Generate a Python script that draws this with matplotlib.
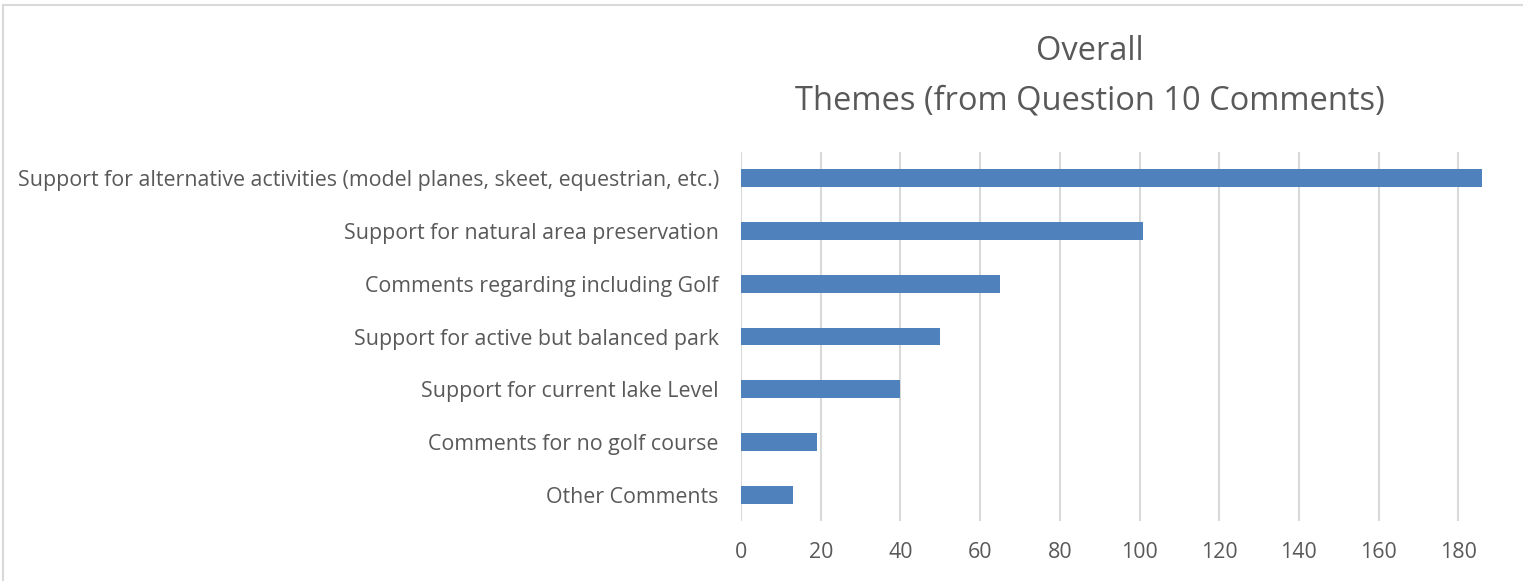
import matplotlib.pyplot as plt
from matplotlib.patches import Rectangle

# Themes, top to bottom
themes = [
    "Support for alternative activities (model planes, skeet, equestrian, etc.)",
    "Support for natural area preservation",
    "Comments regarding including Golf",
    "Support for active but balanced park",
    "Support for current lake Level",
    "Comments for no golf course",
    "Other Comments",
]
counts = [186, 101, 65, 50, 40, 19, 13]
ticks = [0, 20, 40, 60, 80, 100, 120, 140, 160, 180]

W, H = 1523, 581
fig = plt.figure(figsize=(W / 100, H / 100), dpi=100)
plt.rcParams['font.family'] = ['Open Sans', 'DejaVu Sans']

# chart border (cropped on the right and bottom in the original)
fig.patches.append(Rectangle((3 / W, -0.1), 1.2, 1 - 5 / H + 0.1, transform=fig.transFigure,
                             fill=False, edgecolor='#d9d9d9', linewidth=1.5))

ax = fig.add_axes([741 / W, 1 - 521 / H, (1538 - 741) / W, (521 - 152) / H])
ypos = list(range(len(themes)))
ax.barh(ypos, counts, height=0.34, color='#4f81bd', zorder=3)
ax.set_ylim(len(themes) - 0.5, -0.5)
ax.set_xlim(0, 200)
ax.set_yticks(ypos)
ax.set_yticklabels(themes, fontsize=15.4, color='#595959')
ax.set_xticks(ticks)
ax.set_xticklabels([str(t) for t in ticks], fontsize=15.4, color='#595959')
ax.tick_params(axis='both', length=0)
ax.tick_params(axis='y', pad=16)
ax.tick_params(axis='x', pad=15)
ax.grid(axis='x', color='#d9d9d9', linewidth=1.5, zorder=0)
for s in ax.spines.values():
    s.set_visible(False)

fig.text(1090 / W, 1 - 52 / H, "Overall", ha='center', va='center', fontsize=23.5, color='#595959')
fig.text(1090 / W, 1 - 101 / H, "Themes (from Question 10 Comments)", ha='center', va='center',
         fontsize=23.5, color='#595959')

fig.savefig('out.png', dpi=100)
